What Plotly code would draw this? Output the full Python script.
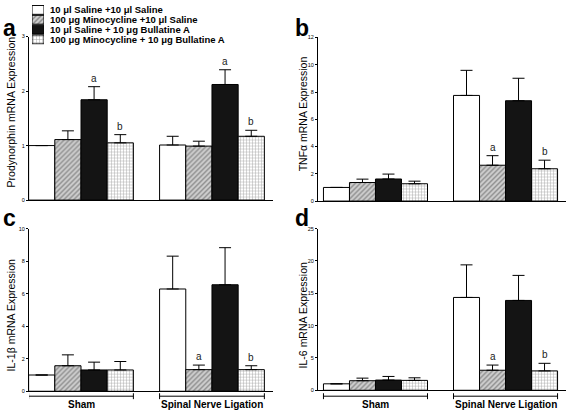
import plotly.graph_objects as go

groups = ["Sham", "Spinal Nerve Ligation"]
treatments = [
    "10 \u03bcl Saline +10 \u03bcl Saline",
    "100 \u03bcg Minocycline +10 \u03bcl Saline",
    "10 \u03bcl Saline + 10 \u03bcg Bullatine A",
    "100 \u03bcg Minocycline + 10 \u03bcg Bullatine A",
]

# rows = treatments, columns = groups (Sham, SNL)
pdyn_mean = [[1.00, 1.01], [1.11, 0.99], [1.84, 2.12], [1.05, 1.17]]
pdyn_sem = [[0.00, 0.16], [0.16, 0.09], [0.24, 0.27], [0.15, 0.11]]
pdyn_sig = [["", ""], ["", ""], ["a", "a"], ["b", "b"]]

tnf_mean = [[1.00, 7.75], [1.36, 2.63], [1.62, 7.36], [1.27, 2.37]]
tnf_sem = [[0.00, 1.84], [0.25, 0.70], [0.36, 1.65], [0.19, 0.63]]
tnf_sig = [["", ""], ["", "a"], ["", ""], ["", "b"]]

il1b_mean = [[1.00, 6.29], [1.57, 1.33], [1.31, 6.55], [1.31, 1.33]]
il1b_sem = [[0.00, 2.02], [0.67, 0.28], [0.48, 2.28], [0.52, 0.24]]
il1b_sig = [["", ""], ["", "a"], ["", ""], ["", "b"]]

il6_mean = [[1.00, 14.36], [1.48, 3.10], [1.58, 13.90], [1.53, 3.00]]
il6_sem = [[0.00, 5.04], [0.40, 0.80], [0.56, 3.87], [0.40, 1.17]]
il6_sig = [["", ""], ["", "a"], ["", ""], ["", "b"]]

panel_letters = ["a", "b", "c", "d"]
y_titles = ["Prodynorphin mRNA Expression", "TNF\u03b1 mRNA Expression",
            "IL-1\u03b2 mRNA Expression", "IL-6 mRNA Expression"]
y_ranges = [[0, 3], [0, 12], [0, 10], [0, 25]]
y_dticks = [1, 2, 2, 5]

# styles
W, H = 567, 412
FONT = "Arial, 'Liberation Sans', sans-serif"
fills = ["white", "#cfcfcf", "#141414", "white"]
pat_shapes = ["", "/", "", "+"]
pat_fg = ["black", "#4a4a4a", "black", "#555555"]
pat_size = [6, 3.5, 6, 3]
pat_sol = [0.3, 0.4, 0.3, 0.3]
BARGAP = 0.2

def px_x(p):
    return p / W

def px_y(p):
    return (H - p) / H

# panel geometry in pixels: (x_left, x_right, y_top, y_bottom)
geom = [(29, 273, 34, 200), (318, 566, 35, 201), (29, 273, 229, 394), (318, 566, 229, 393)]
x_ranges = [[-0.397, 1.466], [-0.442, 1.465], [-0.397, 1.466], [-0.442, 1.465]]
title_pos = [(11, 111), (303, 113), (11, 317), (303, 317)]

panels = [
    (pdyn_mean, pdyn_sem, pdyn_sig),
    (tnf_mean, tnf_sem, tnf_sig),
    (il1b_mean, il1b_sem, il1b_sig),
    (il6_mean, il6_sem, il6_sig),
]

fig = go.Figure()
annotations = []
shapes = []
bar_w = (1 - BARGAP) / len(treatments)

for p, (mean, sem, sig) in enumerate(panels):
    ax = "" if p == 0 else str(p + 1)
    for t in range(len(treatments)):
        fig.add_trace(go.Bar(
            x=[0, 1], y=mean[t],
            xaxis="x" + ax, yaxis="y" + ax,
            marker=dict(color=fills[t], line=dict(color="black", width=1),
                        pattern=dict(shape=pat_shapes[t], fgcolor=pat_fg[t], bgcolor=fills[t],
                                     size=pat_size[t], solidity=pat_sol[t], fillmode="overlay")),
            error_y=dict(type="data", symmetric=False, array=sem[t], arrayminus=[0, 0],
                         color="black", thickness=1, width=6),
            showlegend=False, hoverinfo="skip",
        ))
        for g in range(len(groups)):
            if sig[t][g]:
                annotations.append(dict(
                    x=g + (t - 1.5) * bar_w, y=mean[t][g] + sem[t][g],
                    xref="x" + ax, yref="y" + ax, text=sig[t][g], showarrow=False,
                    yanchor="bottom", yshift=1, font=dict(family=FONT, size=10, color="#222")))
    xl, xr, yt, yb = geom[p]
    fig.update_layout({
        "xaxis" + ax: dict(domain=[px_x(xl), px_x(xr)], range=x_ranges[p], anchor="y" + ax,
                           showline=True, linecolor="black", linewidth=1, showgrid=False,
                           zeroline=False, showticklabels=False, ticks="", fixedrange=True),
        "yaxis" + ax: dict(domain=[px_y(yb), px_y(yt)], range=y_ranges[p], dtick=y_dticks[p],
                           anchor="x" + ax, showline=True, linecolor="black", linewidth=1,
                           showgrid=False, zeroline=False, ticks="outside", ticklen=2,
                           tickwidth=1, tickcolor="black", fixedrange=True,
                           tickfont=dict(family=FONT, size=5.5, color="black")),
    })
    # y-axis title
    tx, ty = title_pos[p]
    annotations.append(dict(x=px_x(tx), y=px_y(ty), xref="paper", yref="paper", text=y_titles[p],
                            textangle=-90, showarrow=False, xanchor="center", yanchor="middle",
                            font=dict(family=FONT, size=10.5, color="black")))
    # panel letters
    lx = 1 if p % 2 == 0 else 293
    ly = 25 if p < 2 else 218
    annotations.append(dict(x=px_x(lx), y=px_y(ly), xref="paper", yref="paper", text="<b>%s</b>" % panel_letters[p],
                            showarrow=False, xanchor="left", yanchor="middle",
                            font=dict(family=FONT, size=23, color="black")))
    # group brackets and labels on bottom panels
    if p >= 2:
        for g, name in enumerate(groups):
            x0 = g - (1 - BARGAP) / 2
            x1 = g + (1 - BARGAP) / 2
            yb_br = px_y(399)
            shapes.append(dict(type="line", xref="x" + ax, yref="paper", x0=x0, x1=x1, y0=yb_br, y1=yb_br,
                               line=dict(color="black", width=1)))
            for xe in (x0, x1):
                shapes.append(dict(type="line", xref="x" + ax, yref="paper", x0=xe, x1=xe,
                                   y0=px_y(396), y1=px_y(402), line=dict(color="black", width=1)))
            annotations.append(dict(x=g, y=px_y(407), xref="x" + ax, yref="paper", text="<b>%s</b>" % name,
                                    showarrow=False, xanchor="center", yanchor="middle",
                                    font=dict(family=FONT, size=10, color="black")))

# manual legend: swatches on a hidden axis
fig.add_trace(go.Bar(
    x=[1, 1, 1, 1], y=[0, 1, 2, 3], orientation="h", width=0.9,
    xaxis="x5", yaxis="y5",
    marker=dict(color=fills, line=dict(color="black", width=1),
                pattern=dict(shape=pat_shapes, fgcolor=pat_fg, bgcolor=fills,
                             size=pat_size, solidity=pat_sol, fillmode="overlay")),
    showlegend=False, hoverinfo="skip",
))
fig.update_layout(
    xaxis5=dict(domain=[px_x(32), px_x(44)], range=[0, 1], visible=False, anchor="y5", fixedrange=True),
    yaxis5=dict(domain=[px_y(42), px_y(2)], range=[3.5, -0.5], visible=False, anchor="x5", fixedrange=True),
)
for t, name in enumerate(treatments):
    annotations.append(dict(x=px_x(48), y=t, xref="paper", yref="y5", text="<b>%s</b>" % name,
                            showarrow=False, xanchor="left", yanchor="middle",
                            font=dict(family=FONT, size=9.5, color="black")))

fig.update_layout(
    width=W, height=H, margin=dict(l=0, r=0, t=0, b=0),
    paper_bgcolor="white", plot_bgcolor="white",
    barmode="group", bargap=BARGAP, bargroupgap=0,
    annotations=annotations, shapes=shapes, showlegend=False,
)

fig.write_html("out.html", config={"displayModeBar": False, "staticPlot": True},
               post_script="document.body.style.margin='0';document.body.style.padding='0';")
